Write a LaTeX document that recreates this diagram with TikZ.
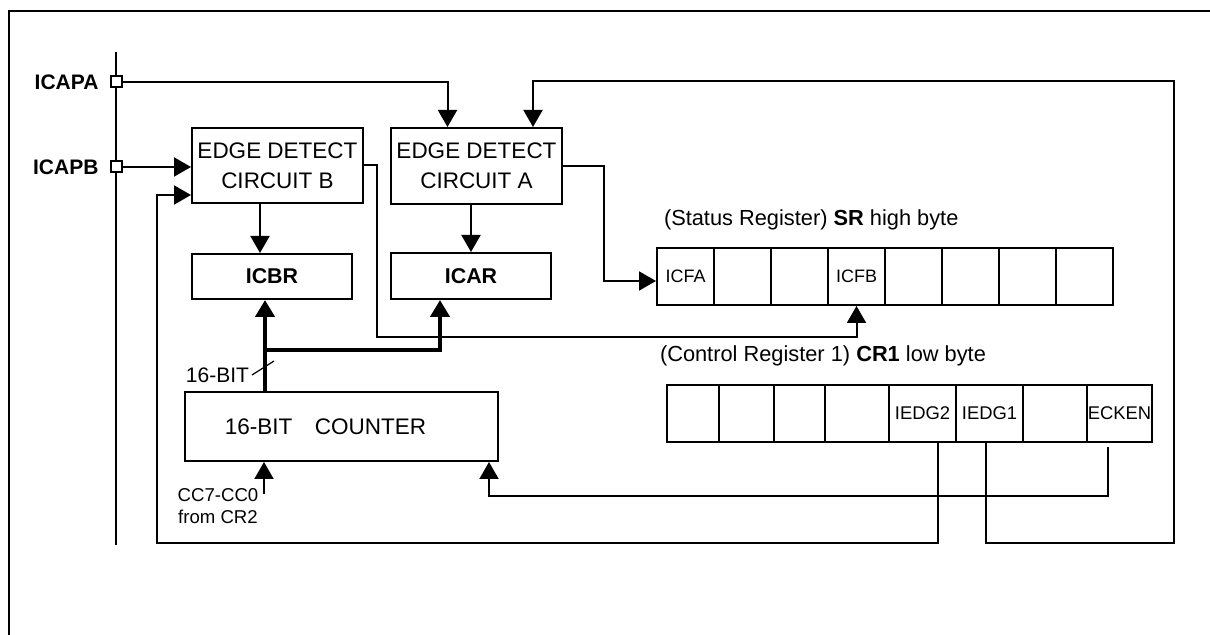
\documentclass[tikz,border=0pt]{standalone}
\usepackage{fontspec}
\setmainfont{Liberation Sans}
\usetikzlibrary{arrows.meta}

\begin{document}
\begin{tikzpicture}[x=0.5pt,y=-0.5pt,line width=1pt,
    box/.style={draw,inner sep=0pt,align=center,font=\fontsize{11.25}{15}\selectfont},
    cell/.style={draw,inner sep=0pt,minimum height=28.5pt},
    pin/.style={draw,fill=white,inner sep=0pt,minimum size=5.5pt},
    pinlabel/.style={font=\bfseries\fontsize{10.5}{12}\selectfont,inner sep=0pt,label distance=5pt},
    arr/.style={-{Triangle[width=9.5pt,length=8.5pt]}},
    bus/.style={line width=2.2pt}]
  \useasboundingbox (0,0) rectangle (1210,635);
  \draw[line width=1.2pt] (1210,11) -- (9,11) -- (9,635);

  \coordinate (bustop) at (116,52);
  \coordinate (busbot) at (116,545);
  \draw (bustop) -- (busbot);
  \node[pin,label={[pinlabel]left:ICAPA}] (icapa) at (116,82) {};
  \node[pin,label={[pinlabel]left:ICAPB}] (icapb) at (116,167) {};

  \node[box,minimum width=85.5pt,minimum height=37.5pt] (edgeB) at (277.5,165.5) {EDGE DETECT\\CIRCUIT B};
  \node[box,minimum width=85.5pt,minimum height=38pt] (edgeA) at (476.5,166) {EDGE DETECT\\CIRCUIT A};
  \node[box,minimum width=80pt,minimum height=22.5pt,font=\bfseries\fontsize{10.7}{13}\selectfont] (icbr) at (272,276.5) {ICBR};
  \node[box,minimum width=80pt,minimum height=23pt,font=\bfseries\fontsize{10.7}{13}\selectfont] (icar) at (471,276) {ICAR};
  \node[box,minimum width=156.5pt,minimum height=34.5pt] (counter) at (341.5,426.5) {16-BIT\hspace{1em}COUNTER\hspace{16pt}};

  \node[anchor=west,inner sep=0pt,font=\fontsize{10.9}{13}\selectfont] (srlabel) at (663,220) {(Status Register) \textbf{SR} high byte};
  \foreach \i/\t in {1/ICFA,2/,3/,4/ICFB,5/,6/,7/,8/}
    \node[cell,minimum width=28.5pt,font=\fontsize{9}{10}\selectfont] (sr\i) at ({657+57*(\i-0.5)},276.5) {\t};

  \node[anchor=west,inner sep=0pt,font=\fontsize{10.9}{13}\selectfont] (crlabel) at (659,356) {(Control Register 1) \textbf{CR1} low byte};
  \foreach \a/\b/\t [count=\i] in {667/719/,719/774/,774/825/,825/889/,889/956/IEDG2,956/1023/IEDG1,1023/1087/,1087/1152/ECKEN}
    \node[cell,minimum width={(\b-\a)*0.5pt},font=\fontsize{9.2}{11}\selectfont] (cr\i) at ({(\a+\b)/2},413.5) {\t};

  \coordinate (loopA1) at (1174,543);
  \coordinate (loopA2) at (1174,81);
  \coordinate (loopB) at (157,543);
  \coordinate (bout) at (377,337);
  \coordinate (aout) at (604,281);
  \coordinate (busjoin) at (265,350);
  \coordinate (ccin) at (264,494);
  \coordinate (eckturn) at (489,496);

  \draw[arr] (icapa.east) -| ([xshift=-14.5pt]edgeA.north);
  \draw[arr] ([xshift=-2pt]cr6.south) |- (loopA1) -- (loopA2) -| ([xshift=28.25pt]edgeA.north);
  \draw[arr] (icapb.east) -- (icapb.east -| edgeB.west);
  \draw[arr] ([xshift=7.75pt]cr5.south) |- (loopB) |- ([yshift=-14.75pt]edgeB.west);
  \draw[arr] (edgeB.east) -| (bout) -| (sr4.south);
  \draw[arr] (edgeA.east) -| (aout) -- ([yshift=-2.25pt]sr1.west);
  \draw[arr] ([xshift=-8.75pt]edgeB.south) -- ([xshift=-8.75pt]edgeB.south |- icbr.north);
  \draw[arr] (icar.north |- edgeA.south) -- (icar.north);

  \draw[bus,arr] (busjoin |- counter.north) -- (busjoin |- icbr.south);
  \draw[bus,arr] (busjoin) -| ([xshift=-15.5pt]icar.south);
  \node[anchor=east,inner sep=0pt,font=\fontsize{10.5}{12}\selectfont] (bitlabel) at (250,375) {16-BIT};
  \draw[line width=0.6pt] ([xshift=1pt]bitlabel.east) -- ++(22,-14);

  \node[align=center,inner sep=0pt,font=\fontsize{9.3}{10.85}\selectfont] (ccsrc) at (218,506) {CC7-CC0\\from CR2};
  \draw[arr] (ccin) -- (ccin |- counter.south);
  \draw[arr] ([xshift=-5.75pt,yshift=-2pt]cr8.south) |- (eckturn) -- (eckturn |- counter.south);
\end{tikzpicture}
\end{document}
